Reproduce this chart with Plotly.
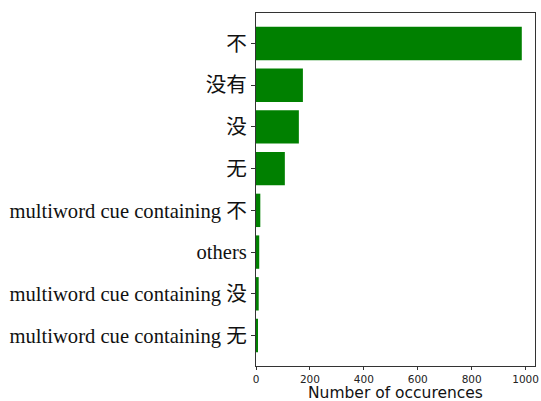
import plotly.graph_objects as go

categories = ["不", "没有", "没", "无", "multiword cue containing 不", "others",
              "multiword cue containing 没", "multiword cue containing 无"]
counts = [986, 174, 159, 107, 16, 12, 10, 6]
x_ticks = [0, 200, 400, 600, 800, 1000]
x_title = "Number of occurences"

pos = list(range(len(categories)))

fig = go.Figure(go.Bar(
    x=counts, y=pos, orientation="h", width=0.8,
    marker=dict(color="#008000", line=dict(width=0)),
))

fig.update_layout(
    width=541, height=401,
    margin=dict(l=256, r=6, t=13, b=35),
    plot_bgcolor="white", paper_bgcolor="white",
    showlegend=False,
    xaxis=dict(
        range=[0, 1035], tickvals=x_ticks, ticks="outside", ticklen=3, tickwidth=1,
        tickcolor="#333", showline=True, linecolor="#333", linewidth=1, mirror=True,
        showgrid=False, zeroline=False, automargin=False,
        tickfont=dict(family="DejaVu Sans", size=10.5, color="#222"),
    ),
    yaxis=dict(
        range=[7.73, -0.73], tickvals=pos, ticktext=categories, ticks="outside", ticklen=4,
        tickwidth=1, tickcolor="#333", showline=True, linecolor="#333", linewidth=1, mirror=True,
        showgrid=False, zeroline=False, automargin=False,
        tickfont=dict(family="Liberation Serif, Noto Sans CJK SC", size=20.6, color="#111"),
    ),
    annotations=[dict(
        text=x_title, xref="paper", yref="paper", x=0.5, y=0, yshift=-27,
        xanchor="center", yanchor="middle", showarrow=False, borderpad=0,
        font=dict(family="DejaVu Sans", size=15.5, color="#111"),
    )],
)

fig.write_html("out.html", config={"displayModeBar": False},
               post_script="document.body.style.margin='0';document.body.style.padding='0';")
